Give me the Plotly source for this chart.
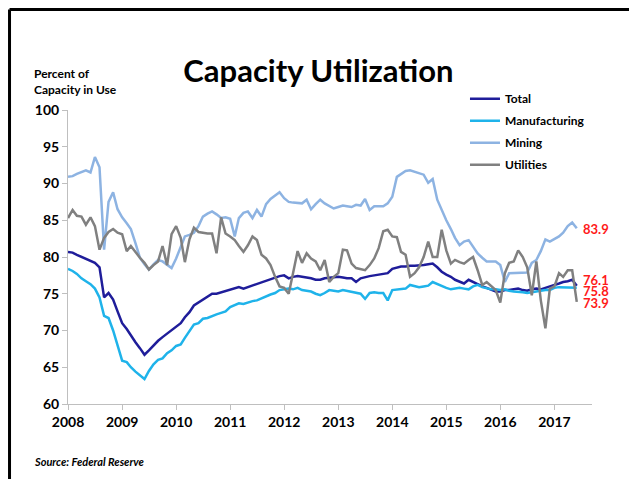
import pandas as pd
import plotly.graph_objects as go

# monthly data, Jan 2008 - Jun 2017 (percent of capacity in use)
months = pd.date_range("2008-01-01", "2017-06-01", freq="MS")

total = [
    80.7, 80.6, 80.3, 80.0, 79.7, 79.5, 79.2, 78.6, 74.5, 75.1, 74.2, 72.6,
    71.0, 70.2, 69.3, 68.4, 67.6, 66.7, 67.3, 68.0, 68.6, 69.1, 69.6, 70.0,
    70.5, 71.0, 71.8, 72.5, 73.4, 73.8, 74.3, 74.6, 75.0, 75.0, 75.2, 75.4,
    75.5, 75.7, 75.9, 75.7, 75.9, 76.1, 76.4, 76.6, 76.8, 77.0, 77.2, 77.4,
    77.5, 77.1, 77.3, 77.4, 77.3, 77.2, 77.1, 76.9, 76.9, 77.1, 77.2, 77.3,
    77.3, 77.2, 77.1, 77.1, 76.6, 77.1, 77.3, 77.4, 77.5, 77.6, 77.8, 77.8,
    78.4, 78.6, 78.7, 78.7, 78.8, 78.8, 78.9, 78.9, 79.0, 79.1, 78.6, 78.0,
    77.6, 77.3, 76.9, 76.6, 76.4, 76.9, 76.6, 76.3, 76.0, 75.8, 75.5, 75.3,
    75.3, 75.5, 75.5, 75.6, 75.7, 75.5, 75.4, 75.6, 75.7, 75.6, 75.8, 75.9,
    76.1, 76.4, 76.6, 76.7, 76.9, 76.1,
]

manufacturing = [
    78.4, 78.1, 77.7, 77.1, 76.7, 76.3, 75.7, 74.5, 72.0, 71.7, 70.0, 67.8,
    65.9, 65.7, 65.0, 64.4, 63.9, 63.4, 64.5, 65.4, 66.0, 66.2, 66.9, 67.3,
    67.9, 68.1, 69.0, 69.9, 70.8, 71.0, 71.6, 71.7, 72.0, 72.2, 72.4, 72.6,
    73.2, 73.5, 73.7, 73.6, 73.8, 74.0, 74.1, 74.4, 74.6, 74.9, 75.1, 75.5,
    75.6, 75.7, 75.6, 75.8, 75.5, 75.4, 75.3, 75.0, 74.8, 75.1, 75.5, 75.4,
    75.3, 75.5, 75.4, 75.2, 75.1, 75.0, 74.3, 75.1, 75.2, 75.1, 75.1, 74.1,
    75.5, 75.6, 75.7, 75.7, 76.2, 76.0, 75.9, 76.0, 76.1, 76.6, 76.3, 76.1,
    75.8, 75.6, 75.7, 75.8, 75.7, 75.6, 76.0, 76.2, 75.9, 75.7, 75.6, 75.6,
    75.5, 75.6, 75.4, 75.3, 75.3, 75.2, 75.1, 75.2, 75.3, 75.5, 75.5, 75.5,
    75.8, 75.9, 75.9, 75.9, 75.9, 75.8,
]

mining = [
    90.9, 91.0, 91.3, 91.6, 91.8, 91.5, 93.6, 92.2, 81.0, 87.5, 88.8, 86.5,
    85.4, 84.6, 83.8, 81.9, 79.9, 79.0, 78.3, 79.0, 79.6, 79.4, 79.0, 78.5,
    79.8, 81.3, 82.8, 83.0, 83.3, 84.2, 85.5, 85.9, 86.2, 85.8, 85.3, 85.4,
    85.2, 82.8, 85.3, 86.0, 86.2, 85.3, 86.4, 85.5, 87.2, 87.9, 88.4, 88.8,
    88.0, 87.5, 87.4, 87.3, 87.3, 87.8, 86.5, 87.2, 87.8, 87.3, 86.9, 86.6,
    86.8, 87.0, 86.9, 86.8, 87.1, 87.0, 87.9, 86.4, 86.9, 86.9, 86.9, 87.3,
    88.2, 90.9, 91.3, 91.7, 91.8, 91.6, 91.4, 91.2, 90.1, 90.6, 87.8, 86.4,
    85.0, 83.8, 82.6, 81.6, 82.1, 82.3, 81.4, 80.5, 79.9, 79.4, 79.4, 79.4,
    78.9, 76.6, 77.8, 77.8, 77.8, 77.9, 77.9, 79.2, 79.6, 80.8, 82.4, 82.1,
    82.5, 82.8, 83.3, 84.2, 84.7, 83.9,
]

utilities = [
    85.3, 86.4, 85.6, 85.5, 84.4, 85.4, 84.2, 81.0, 82.6, 83.4, 83.8, 83.3,
    83.1, 80.8, 81.5, 80.6, 79.9, 79.2, 78.3, 78.9, 79.4, 81.5, 78.9, 83.1,
    84.2, 82.6, 79.3, 82.4, 84.0, 83.4, 83.3, 83.2, 83.2, 80.5, 85.4, 83.2,
    82.8, 82.3, 81.5, 80.7, 81.6, 82.8, 82.3, 80.3, 79.8, 78.9, 77.3, 76.0,
    75.8, 75.0, 77.8, 80.8, 79.2, 80.5, 79.8, 79.4, 78.2, 79.6, 76.6, 77.3,
    77.8, 81.0, 80.9, 79.1, 78.5, 78.3, 78.2, 78.9, 79.8, 81.2, 83.5, 83.7,
    82.8, 82.7, 80.7, 80.3, 77.3, 77.8, 78.6, 80.0, 82.1, 80.0, 80.0, 83.7,
    80.9, 79.1, 79.6, 79.3, 79.1, 79.6, 80.0, 78.2, 76.2, 76.6, 76.0, 75.5,
    73.8, 77.8, 79.2, 79.4, 80.9, 80.0, 78.6, 74.8, 79.4, 74.1, 70.3, 75.7,
    76.0, 77.8, 77.3, 78.2, 78.2, 73.9,
]

series_names = ["Total", "Manufacturing", "Mining", "Utilities"]
series_values = [total, manufacturing, mining, utilities]
colors = ["#1f1d9a", "#1fb3ea", "#8db3e2", "#808080"]
# vertical nudges (px) for the end-of-line value labels
label_shift = [6, -3, -1, -1]

FONT = "Lato"

fig = go.Figure()
for name, vals, col in zip(series_names, series_values, colors):
    fig.add_trace(go.Scatter(x=months, y=vals, mode="lines", name=name,
                             legendgroup=name,
                             line=dict(color=col, width=2.5)))

# last values in red to the right of the lines
for name, vals, dy in zip(series_names, series_values, label_shift):
    fig.add_annotation(x=months[-1], y=vals[-1], xref="x", yref="y",
                       text="%.1f" % vals[-1], showarrow=False,
                       xanchor="left", yanchor="middle", xshift=4, yshift=dy,
                       font=dict(family=FONT, size=13, color="#ff1a1a", weight="bold"))

fig.add_annotation(x=-0.069, y=1.097, xref="paper", yref="paper",
                   text="Percent of<br>Capacity in Use", showarrow=False,
                   xanchor="left", yanchor="middle", align="left",
                   font=dict(family=FONT, size=12, color="black", weight="bold"))
fig.add_annotation(x=-0.069, y=-0.194, xref="paper", yref="paper",
                   text="<i>Source: Federal Reserve</i>", showarrow=False,
                   xanchor="left", yanchor="middle",
                   font=dict(family=FONT, size=11, color="black", weight="bold"))

# slide frame
frame = dict(color="black", width=3)
fig.add_shape(type="line", xref="paper", yref="paper", x0=-0.1116, x1=1.078,
              y0=1.3418, y1=1.3418, line=frame)
fig.add_shape(type="line", xref="paper", yref="paper", x0=-0.1116, x1=-0.1116,
              y0=1.3418, y1=-0.3, line=frame)
fig.add_shape(type="line", xref="paper", yref="paper", x0=1.078, x1=1.078,
              y0=1.3418, y1=-0.3, line=frame)

fig.update_layout(
    width=629, height=471,
    margin=dict(l=60, r=45, t=102, b=75),
    paper_bgcolor="white", plot_bgcolor="white",
    title=dict(text="Capacity Utilization", xref="container", x=0.4936,
               y=0.866, yanchor="middle", xanchor="center",
               font=dict(family=FONT, size=31, color="black", weight="bold")),
    legend=dict(x=0.7576, y=1.0874, xanchor="left", yanchor="top",
                bgcolor="rgba(0,0,0,0)", tracegroupgap=3,
                font=dict(family=FONT, size=12, color="black", weight="bold")),
    showlegend=True,
)
fig.update_xaxes(type="date", range=["2008-01-01", "2017-09-12"],
                 dtick="M12", tick0="2008-01-01", tickformat="%Y",
                 showgrid=False, zeroline=False, showline=True,
                 linecolor="#bfbfbf", linewidth=1, ticks="outside",
                 ticklen=5, tickcolor="#bfbfbf",
                 tickfont=dict(family=FONT, size=14, color="black", weight="bold"))
fig.update_yaxes(range=[60, 100], dtick=5, showgrid=False, zeroline=False,
                 showline=True, linecolor="#bfbfbf", linewidth=1,
                 ticks="outside", ticklen=5, tickcolor="#bfbfbf",
                 tickfont=dict(family=FONT, size=14, color="black", weight="bold"))

fig.write_html("out.html")
